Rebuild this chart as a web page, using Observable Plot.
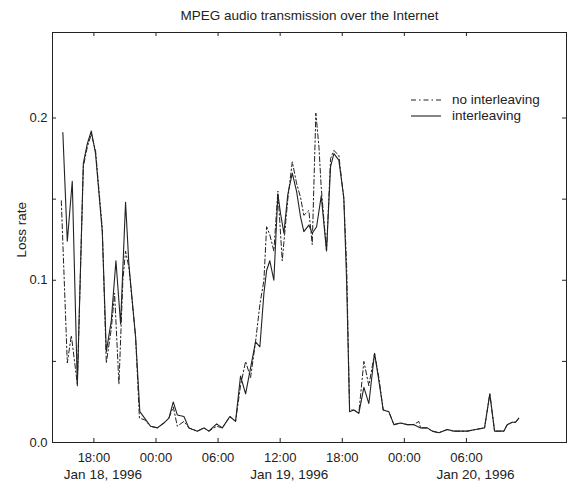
<!DOCTYPE html>
<html>
<head>
<meta charset="utf-8">
<script src="https://cdn.jsdelivr.net/npm/d3@7"></script>
<script src="https://cdn.jsdelivr.net/npm/@observablehq/plot@0.6"></script>
<style>
  html, body { margin: 0; padding: 0; background: #fff; }
  #wrap { position: relative; width: 568px; height: 485px; font-family: "Liberation Sans", Arial, Helvetica, sans-serif; }
  #legend { position: absolute; left: 410px; top: 92px; font-size: 13.5px; color: #222; line-height: 16px; }
  #legend div { display: flex; align-items: center; height: 16px; }
  #legend svg { margin-right: 10px; }
</style>
</head>
<body>
<div id="wrap"></div>
<script>
// Title, axis texts
const title = "MPEG audio transmission over the Internet";
const yLabel = "Loss rate";
const seriesNames = ["no interleaving", "interleaving"];

// Hours since 1996-01-18 00:00 (UTC) and loss rate — "interleaving" (solid)
const solidHours = [15.0,15.43,15.91,16.40,16.98,17.36,17.75,18.16,18.81,19.20,19.68,20.13,20.58,21.06,21.38,22.03,22.44,22.90,23.48,24.13,24.76,25.25,25.67,26.06,26.70,27.18,27.99,28.63,29.11,29.86,30.41,31.14,31.69,32.17,32.66,33.14,33.62,34.04,34.43,34.69,35.00,35.39,35.78,36.04,36.36,36.74,37.17,37.58,37.97,38.29,38.77,39.10,39.52,39.97,40.48,40.87,41.19,41.67,42.15,42.42,42.71,43.12,43.60,44.09,44.57,45.12,45.54,45.96,46.50,46.99,47.63,48.28,48.92,49.57,50.21,50.70,51.33,52.15,52.78,53.43,54.08,54.88,55.75,56.26,56.72,57.13,57.61,57.94,58.43,58.75,59.06];
const solidLoss = [0.191,0.124,0.161,0.035,0.172,0.184,0.192,0.178,0.130,0.056,0.075,0.112,0.073,0.148,0.110,0.065,0.019,0.015,0.010,0.009,0.012,0.015,0.025,0.017,0.016,0.009,0.007,0.009,0.007,0.0115,0.009,0.016,0.013,0.041,0.030,0.046,0.062,0.059,0.092,0.106,0.112,0.100,0.153,0.141,0.129,0.153,0.166,0.155,0.139,0.130,0.134,0.129,0.133,0.152,0.118,0.170,0.178,0.174,0.151,0.100,0.019,0.020,0.018,0.034,0.024,0.055,0.038,0.020,0.019,0.011,0.012,0.011,0.011,0.009,0.009,0.007,0.006,0.008,0.007,0.007,0.007,0.008,0.009,0.030,0.007,0.007,0.007,0.011,0.0125,0.0125,0.015];

// "no interleaving" (dash-dot)
const dashedHours = [14.85,15.43,15.82,16.40,16.98,17.36,17.75,18.16,18.81,19.20,19.68,20.00,20.42,20.80,21.06,21.38,22.03,22.40,22.90,23.48,24.13,24.76,25.25,25.67,26.06,26.70,27.18,27.99,28.63,29.11,29.86,30.41,31.14,31.69,32.17,32.66,33.14,33.62,34.04,34.43,34.69,35.00,35.39,35.78,36.20,36.74,37.17,37.58,37.97,38.29,38.77,39.10,39.45,39.75,39.97,40.48,40.87,41.19,41.67,42.15,42.42,42.71,43.12,43.60,44.09,44.57,45.12,45.54,45.96,46.50,46.99,47.63,48.28,48.92,49.40,49.57,50.21,50.70,51.33,52.15,52.78,53.43,54.08,54.88,55.75,56.26,56.72,57.13,57.61,57.94,58.43,58.75,59.06];
const dashedLoss = [0.149,0.049,0.066,0.036,0.170,0.182,0.190,0.180,0.132,0.049,0.070,0.092,0.036,0.100,0.118,0.108,0.065,0.015,0.014,0.010,0.009,0.012,0.015,0.022,0.010,0.013,0.009,0.007,0.009,0.007,0.010,0.009,0.016,0.013,0.035,0.050,0.040,0.062,0.085,0.100,0.133,0.128,0.118,0.155,0.112,0.150,0.173,0.160,0.151,0.140,0.143,0.122,0.203,0.182,0.157,0.118,0.175,0.180,0.177,0.150,0.110,0.020,0.020,0.018,0.050,0.035,0.055,0.040,0.020,0.019,0.011,0.012,0.011,0.011,0.013,0.009,0.009,0.007,0.006,0.008,0.007,0.007,0.007,0.008,0.009,0.030,0.007,0.007,0.007,0.011,0.0125,0.0125,0.015];

// Axis ticks (hours since 1996-01-18 00:00 UTC)
const xTickHours = [18, 24, 30, 36, 42, 48, 54];
const xTickLabels = ["18:00", "00:00", "06:00", "12:00", "18:00", "00:00", "06:00"];
const dateLabelHours = [18, 36, 54];
const dateLabels = ["Jan 18, 1996", "Jan 19, 1996", "Jan 20, 1996"];
const yTickValues = [0, 0.1, 0.2];
const yMinorTicks = [0, 0.05, 0.1, 0.15, 0.2];
const xDomainHours = [14, 63.67];
const yDomain = [0, 0.2527];

const base = Date.UTC(1996, 0, 18);
const toDate = h => new Date(base + h * 3600e3);

const solid = solidHours.map((h, i) => ({t: toDate(h), v: solidLoss[i]}));
const dashed = dashedHours.map((h, i) => ({t: toDate(h), v: dashedLoss[i]}));
const xTicks = xTickHours.map((h, i) => ({t: toDate(h), label: xTickLabels[i]}));
const dates = dateLabelHours.map((h, i) => ({t: toDate(h), label: dateLabels[i]}));

const ink = "#222";
const font = "13px";
const plotH = 410, plotW = 514;

const chart = Plot.plot({
  width: 568,
  height: 485,
  marginTop: 32,
  marginBottom: 43,
  marginLeft: 52,
  marginRight: 2,
  style: {fontFamily: '"Liberation Sans", Arial, Helvetica, sans-serif', fontSize: font, color: ink, background: "#fff"},
  x: {type: "utc", domain: xDomainHours.map(toDate), axis: null},
  y: {domain: yDomain, axis: null},
  marks: [
    Plot.frame({stroke: ink, strokeWidth: 1}),
    // inward ticks bottom & top
    Plot.tickX(xTicks, {x: "t", insetTop: plotH - 4, stroke: ink}),
    Plot.tickX(xTicks, {x: "t", insetBottom: plotH - 4, stroke: ink}),
    // inward ticks left & right
    Plot.tickY(yMinorTicks, {y: d => d, insetRight: plotW - 4, stroke: ink}),
    Plot.tickY(yMinorTicks, {y: d => d, insetLeft: plotW - 4, stroke: ink}),
    // x tick labels
    Plot.text(xTicks, {x: "t", text: "label", frameAnchor: "bottom", dy: 15, lineAnchor: "middle", fill: ink, fontSize: 13}),
    Plot.text(dates, {x: "t", text: "label", frameAnchor: "bottom", dy: 32, dx: 9, lineAnchor: "middle", fill: ink, fontSize: 13.5}),
    // y tick labels
    Plot.text(yTickValues, {y: d => d, text: d => d.toFixed(1), frameAnchor: "left", dx: -5, textAnchor: "end", lineAnchor: "middle", fill: ink, fontSize: 13}),
    // y label
    Plot.text([yLabel], {frameAnchor: "left", dx: -31, dy: 20, rotate: -90, lineAnchor: "middle", fill: ink, fontSize: 13.5}),
    // title
    Plot.text([title], {frameAnchor: "top", dy: -17, lineAnchor: "middle", fill: ink, fontSize: 13.5}),
    // data
    Plot.line(dashed, {x: "t", y: "v", stroke: ink, strokeWidth: 1, strokeDasharray: "5,2.5,1.5,2.5"}),
    Plot.line(solid, {x: "t", y: "v", stroke: ink, strokeWidth: 1.1})
  ]
});

const wrap = document.getElementById("wrap");
wrap.appendChild(chart);

const legend = document.createElement("div");
legend.id = "legend";
legend.innerHTML =
  `<div><svg width="32" height="4"><line x1="1" y1="2" x2="31" y2="2" stroke="${ink}" stroke-width="1" stroke-dasharray="5,3,1.5,3"/></svg>${seriesNames[0]}</div>` +
  `<div><svg width="32" height="4"><line x1="1" y1="2" x2="31" y2="2" stroke="${ink}" stroke-width="1.1"/></svg>${seriesNames[1]}</div>`;
wrap.appendChild(legend);
</script>
</body>
</html>
